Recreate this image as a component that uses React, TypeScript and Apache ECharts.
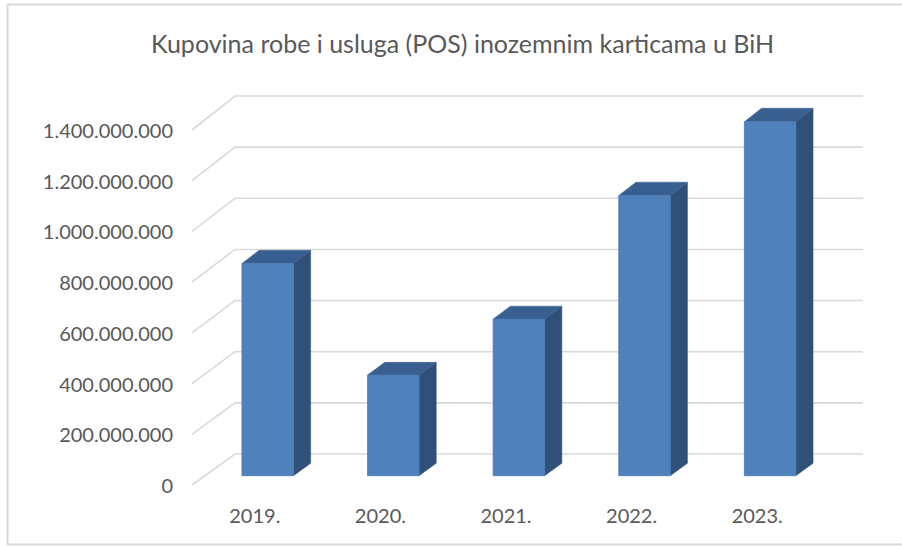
import React, { useEffect, useRef } from "react";
import * as echarts from "echarts";

const categories = ["2019.", "2020.", "2021.", "2022.", "2023."];
const values = [835000000, 396000000, 616000000, 1102000000, 1392000000];
const yTicks = [0, 200000000, 400000000, 600000000, 800000000, 1000000000, 1200000000, 1400000000];
const titleText = "Kupovina robe i usluga (POS) inozemnim karticama u BiH";

const Y_MAX = 1400000000;
const Y_STEP = 200000000;
const DX = 43;
const DY0 = -31;
const DY1 = -34;
const Z0 = 0.3;
const Z1 = 0.7;
const BAR_FRAC = 0.41;

function fmt(v: number): string {
  return String(Math.round(v)).replace(/\B(?=(\d{3})+(?!\d))/g, ".");
}

export default function App() {
  const ref = useRef<HTMLDivElement>(null);
  useEffect(() => {
    if (!ref.current) return;
    const chart = echarts.init(ref.current, undefined, { renderer: "svg" });
    const dyAt = (v: number) => DY0 + (DY1 - DY0) * (v / Y_MAX);

    const option: any = {
      animation: false,
      backgroundColor: "#ffffff",
      title: {
        text: titleText,
        left: 146,
        top: 25,
        textStyle: {
          fontFamily: "Lato",
          fontSize: 25,
          fontWeight: "normal",
          color: "#595959",
        },
      },
      graphic: [
        {
          type: "rect",
          shape: { x: 7.5, y: 4.5, width: 900, height: 540 },
          style: { fill: "none", stroke: "#d9d9d9", lineWidth: 2 },
          silent: true,
          z: -10,
        },
      ],
      grid: { left: 192, right: 82, top: 130, bottom: 61, containLabel: false },
      xAxis: {
        type: "category",
        data: categories,
        axisLine: { show: false },
        axisTick: { show: false },
        axisLabel: {
          margin: 20,
          fontFamily: "Lato",
          fontSize: 20,
          color: "#595959",
        },
      },
      yAxis: {
        type: "value",
        min: 0,
        max: Y_MAX,
        interval: Y_STEP,
        axisLine: { show: false },
        axisTick: { show: false },
        splitLine: { show: false },
        axisLabel: {
          margin: 19,
          fontFamily: "Lato",
          fontSize: 20,
          color: "#595959",
          formatter: (v: number) => fmt(v),
        },
      },
      series: [
        {
          type: "custom",
          name: "grid",
          clip: false,
          silent: true,
          z: 1,
          encode: { x: 0, y: 1 },
          data: yTicks.map((t) => [0, t]),
          renderItem: (params: any, api: any) => {
            const v = api.value(1);
            const band = api.size([1, 0])[0];
            const p0 = api.coord([0, v]);
            const p4 = api.coord([categories.length - 1, v]);
            const left = p0[0] - band / 2;
            const right = p4[0] + band / 2;
            const yF = p0[1];
            const dy = dyAt(v);
            return {
              type: "polyline",
              shape: {
                points: [
                  [left, yF],
                  [left + DX, yF + dy],
                  [right + DX, yF + dy],
                ],
              },
              style: { stroke: "#d9d9d9", lineWidth: 1.6, fill: "none" },
            };
          },
        },
        {
          type: "custom",
          name: "bars",
          clip: false,
          z: 2,
          encode: { x: 0, y: 1 },
          data: values.map((v, i) => [i, v]),
          renderItem: (params: any, api: any) => {
            const i = api.value(0);
            const v = api.value(1);
            const band = api.size([1, 0])[0];
            const pt = api.coord([i, v]);
            const pb = api.coord([i, 0]);
            const w = band * BAR_FRAC;
            const xl = pt[0] - w / 2;
            const xr = pt[0] + w / 2;
            const dyT = dyAt(v);
            const dyB = DY0;
            const P = (x: number, yFront: number, dy: number, z: number) => [x + z * DX, yFront + z * dy];
            const ftl = P(xl, pt[1], dyT, Z0);
            const ftr = P(xr, pt[1], dyT, Z0);
            const fbl = P(xl, pb[1], dyB, Z0);
            const fbr = P(xr, pb[1], dyB, Z0);
            const btl = P(xl, pt[1], dyT, Z1);
            const btr = P(xr, pt[1], dyT, Z1);
            const bbr = P(xr, pb[1], dyB, Z1);
            return {
              type: "group",
              children: [
                {
                  type: "polygon",
                  shape: { points: [ftr, btr, bbr, fbr] },
                  style: { fill: "#2F5079", stroke: "#2F5079", lineWidth: 0.5 },
                },
                {
                  type: "polygon",
                  shape: { points: [ftl, ftr, btr, btl] },
                  style: { fill: "#385F90", stroke: "#385F90", lineWidth: 0.5 },
                },
                {
                  type: "polygon",
                  shape: { points: [ftl, ftr, fbr, fbl] },
                  style: { fill: "#4F81BD", stroke: "#4A7AB4", lineWidth: 0.8 },
                },
              ],
            };
          },
        },
      ],
    };
    chart.setOption(option);
    return () => chart.dispose();
  }, []);
  return (
    <div
      ref={ref}
      style={{ position: "fixed", left: 0, top: 0, width: 902, height: 546 }}
    />
  );
}
